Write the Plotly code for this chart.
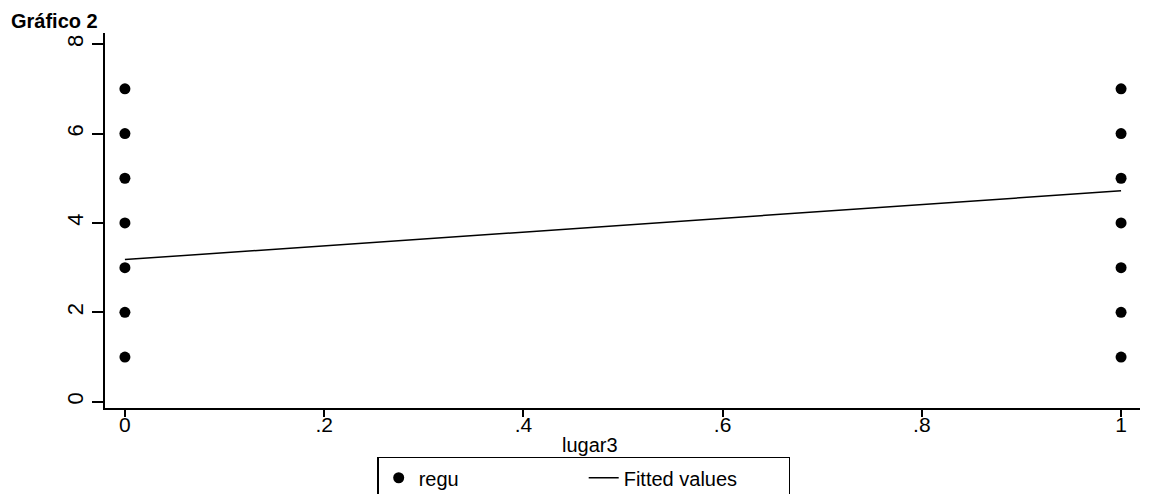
import plotly.graph_objects as go

# Data
lugar3 = [0, 0, 0, 0, 0, 0, 0, 1, 1, 1, 1, 1, 1, 1]
regu = [1, 2, 3, 4, 5, 6, 7, 1, 2, 3, 4, 5, 6, 7]
fit_x = [0, 1]
fit_y = [3.18, 4.72]

x_ticks = [0, 0.2, 0.4, 0.6, 0.8, 1]
x_ticktext = ["0", ".2", ".4", ".6", ".8", "1"]
y_ticks = [0, 2, 4, 6, 8]

font_family = "Liberation Sans, Arial, sans-serif"

fig = go.Figure()
fig.add_trace(go.Scatter(
    x=lugar3, y=regu, mode="markers", name="regu",
    marker=dict(color="black", size=11, symbol="circle"),
))
fig.add_trace(go.Scatter(
    x=fit_x, y=fit_y, mode="lines", name="Fitted values",
    line=dict(color="black", width=1.5),
))

fig.update_layout(
    width=1157, height=494,
    paper_bgcolor="white", plot_bgcolor="white",
    margin=dict(l=97, r=25, t=25, b=94, autoexpand=False),
    font=dict(family=font_family, size=20, color="black"),
    showlegend=True,
    legend=dict(
        orientation="h", x=0.263, y=-0.13, xanchor="left", yanchor="top",
        bordercolor="black", borderwidth=1.5, bgcolor="white",
        font=dict(size=20), entrywidth=160, entrywidthmode="pixels",
    ),
    xaxis=dict(
        range=[-0.02, 1.019], tickvals=x_ticks, ticktext=x_ticktext,
        showline=True, linecolor="black", linewidth=2,
        ticks="outside", ticklen=7, tickwidth=1.5, tickcolor="black",
        tickfont=dict(size=21, family=font_family),
        ticklabelstandoff=-10,
        showgrid=False, zeroline=False,
    ),
    yaxis=dict(
        range=[-0.14, 8.25], tickvals=y_ticks,
        showline=True, linecolor="black", linewidth=2,
        ticks="outside", ticklen=11, tickwidth=1.5, tickcolor="black",
        tickfont=dict(size=22, family=font_family),
        ticklabelstandoff=0,
        showgrid=False, zeroline=False, tickangle=-90,
    ),
    annotations=[
        dict(
            text="<b>Gráfico 2</b>", xref="paper", yref="paper",
            x=-0.093, y=1.0, xanchor="left", yanchor="top", yshift=25,
            showarrow=False, font=dict(size=20, family=font_family),
        ),
        dict(
            text="lugar3", xref="paper", yref="paper",
            x=0.469, y=0, xanchor="center", yanchor="middle", yshift=-37,
            showarrow=False, font=dict(size=20, family=font_family),
        ),
    ],
)

fig.write_html("out.html")
